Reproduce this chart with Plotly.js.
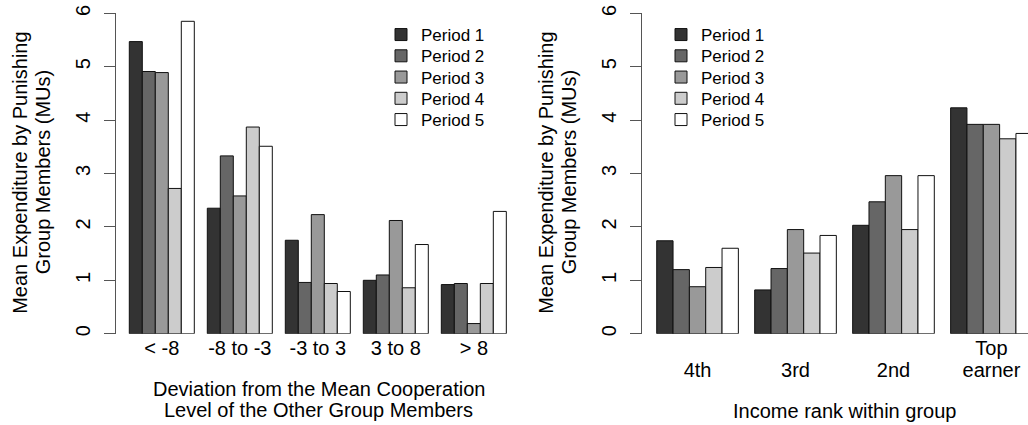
<!DOCTYPE html>
<html>
<head>
<meta charset="utf-8">
<script src="https://cdn.plot.ly/plotly-3.0.1.min.js"></script>
<style>html,body{margin:0;padding:0;background:#fff;overflow:hidden}#chart{width:1028px;height:425px}</style>
</head>
<body>
<div id="chart"></div>
<script>
// ---- data ----
const periodNames = ['Period 1', 'Period 2', 'Period 3', 'Period 4', 'Period 5'];
const periodColors = ['#333333', '#666666', '#999999', '#cccccc', '#ffffff'];

const leftCategories = ['< -8', '-8 to -3', '-3 to 3', '3 to 8', '> 8'];
const leftTickText = ['&lt; -8', '-8 to -3', '-3 to 3', '3 to 8', '&gt; 8'];
const leftP1 = [5.47, 2.35, 1.75, 1.00, 0.92];
const leftP2 = [4.91, 3.33, 0.96, 1.10, 0.94];
const leftP3 = [4.89, 2.58, 2.23, 2.12, 0.19];
const leftP4 = [2.72, 3.87, 0.94, 0.86, 0.94];
const leftP5 = [5.85, 3.51, 0.79, 1.67, 2.29];

const rightCategories = ['4th', '3rd', '2nd', 'Top earner'];
const rightTickLine1 = ['', '', '', 'Top'];
const rightTickLine2 = ['4th', '3rd', '2nd', 'earner'];
const rightP1 = [1.74, 0.82, 2.03, 4.23];
const rightP2 = [1.20, 1.22, 2.47, 3.92];
const rightP3 = [0.88, 1.95, 2.96, 3.92];
const rightP4 = [1.24, 1.51, 1.95, 3.65];
const rightP5 = [1.60, 1.84, 2.96, 3.75];

const yTickVals = [0, 1, 2, 3, 4, 5, 6];
const yTitleLines = ['Mean Expenditure by Punishing', 'Group Members (MUs)'];
const leftXTitleLines = ['Deviation from the Mean Cooperation', 'Level of the Other Group Members'];
const rightXTitle = 'Income rank within group';

// ---- build ----
const W = 1028, H = 425;
const px = v => v / W;
const py = v => (H - v) / H;
const FONT = 'Liberation Sans, Arial, Helvetica, sans-serif';

const leftSeries = [leftP1, leftP2, leftP3, leftP4, leftP5];
const rightSeries = [rightP1, rightP2, rightP3, rightP4, rightP5];
const legendKey = n => (n === 1 ? 'legend' : 'legend' + n);

const traces = [];
leftSeries.forEach((vals, i) => traces.push({
  type: 'bar', x: leftCategories, y: vals, name: periodNames[i],
  xaxis: 'x', yaxis: 'y', legend: legendKey(i + 1),
  marker: {color: periodColors[i], line: {color: '#111', width: 1}}
}));
rightSeries.forEach((vals, i) => traces.push({
  type: 'bar', x: rightCategories, y: vals, name: periodNames[i],
  xaxis: 'x2', yaxis: 'y2', legend: legendKey(i + 6),
  marker: {color: periodColors[i], line: {color: '#111', width: 1}}
}));
// empty trace so the second row of right-panel tick labels (xaxis3) gets drawn
traces.push({type: 'scatter', mode: 'markers', x: [], y: [], xaxis: 'x3', yaxis: 'y2',
  showlegend: false, hoverinfo: 'skip'});

const yDomain = [py(333.7), py(13.3)];
const yAxisBase = {
  range: [0, 6], tickvals: yTickVals, ticktext: yTickVals.map(String),
  showgrid: false, zeroline: false, showline: true, linecolor: '#555', linewidth: 1,
  ticks: 'outside', ticklen: 11, tickwidth: 1, tickcolor: '#555',
  tickangle: -90, tickfont: {family: FONT, size: 20, color: '#000'},
  ticklabelstandoff: 6, domain: yDomain, fixedrange: true
};
const xAxisBase = {
  showgrid: false, zeroline: false, showline: false, ticks: '',
  tickfont: {family: FONT, size: 20, color: '#000'}, tickangle: 0, fixedrange: true,
  ticklabelstandoff: 0
};
const rightRange = [-0.57, 3.373];
const rightDomain = [px(641.7), 1];

const annotations = [];
function addYTitle(offset) {
  const xs = [20 + offset, 42.5 + offset];
  yTitleLines.forEach((t, i) => annotations.push({
    text: t, xref: 'paper', yref: 'paper', x: px(xs[i]), y: py(172.8),
    xanchor: 'center', yanchor: 'middle', textangle: -90, showarrow: false,
    font: {family: FONT, size: 20, color: '#000'}
  }));
}
addYTitle(0);
addYTitle(526);
[389, 410].forEach((yy, i) => annotations.push({
  text: leftXTitleLines[i], xref: 'paper', yref: 'paper', x: px(318.5), y: py(yy),
  xanchor: 'center', yanchor: 'middle', showarrow: false,
  font: {family: FONT, size: 20, color: '#000'}
}));
annotations.push({
  text: rightXTitle, xref: 'paper', yref: 'paper', x: px(844.5), y: py(411),
  xanchor: 'center', yanchor: 'middle', showarrow: false,
  font: {family: FONT, size: 20, color: '#000'}
});

const layout = {
  width: W, height: H, margin: {l: 0, r: 0, t: 0, b: 0},
  paper_bgcolor: '#fff', plot_bgcolor: '#fff',
  barmode: 'group', bargap: 1 / 6, bargroupgap: 0,
  xaxis: Object.assign({}, xAxisBase, {
    type: 'category', domain: [px(115.7), px(521.4)], range: [-0.591, 4.61],
    tickvals: leftCategories, ticktext: leftTickText, anchor: 'y'
  }),
  yaxis: Object.assign({}, yAxisBase, {anchor: 'x'}),
  xaxis2: Object.assign({}, xAxisBase, {
    type: 'category', domain: rightDomain, range: rightRange,
    tickvals: rightCategories, ticktext: rightTickLine1, anchor: 'y2'
  }),
  xaxis3: Object.assign({}, xAxisBase, {
    type: 'linear', domain: rightDomain, range: rightRange, overlaying: 'x2',
    tickvals: rightCategories.map((c, i) => i), ticktext: rightTickLine2,
    anchor: 'y2', ticklabelstandoff: 22
  }),
  yaxis2: Object.assign({}, yAxisBase, {anchor: 'x2'}),
  showlegend: true,
  annotations: annotations,
  font: {family: FONT, size: 20, color: '#000'}
};

// one legend entry per row, so the row spacing can follow the reference
const legendRowCenters = [35, 56.25, 77.5, 98.75, 120];
const legendLefts = [381, 661];
legendLefts.forEach((lx, p) => {
  legendRowCenters.forEach((cy, r) => {
    layout[legendKey(p * 5 + r + 1)] = {
      orientation: 'v', xanchor: 'left', yanchor: 'top',
      x: px(lx), y: py(cy - 18),
      bgcolor: 'rgba(0,0,0,0)', borderwidth: 0,
      font: {family: FONT, size: 17, color: '#000'}
    };
  });
});

Plotly.newPlot('chart', traces, layout, {staticPlot: true, displayModeBar: false});
</script>
</body>
</html>
